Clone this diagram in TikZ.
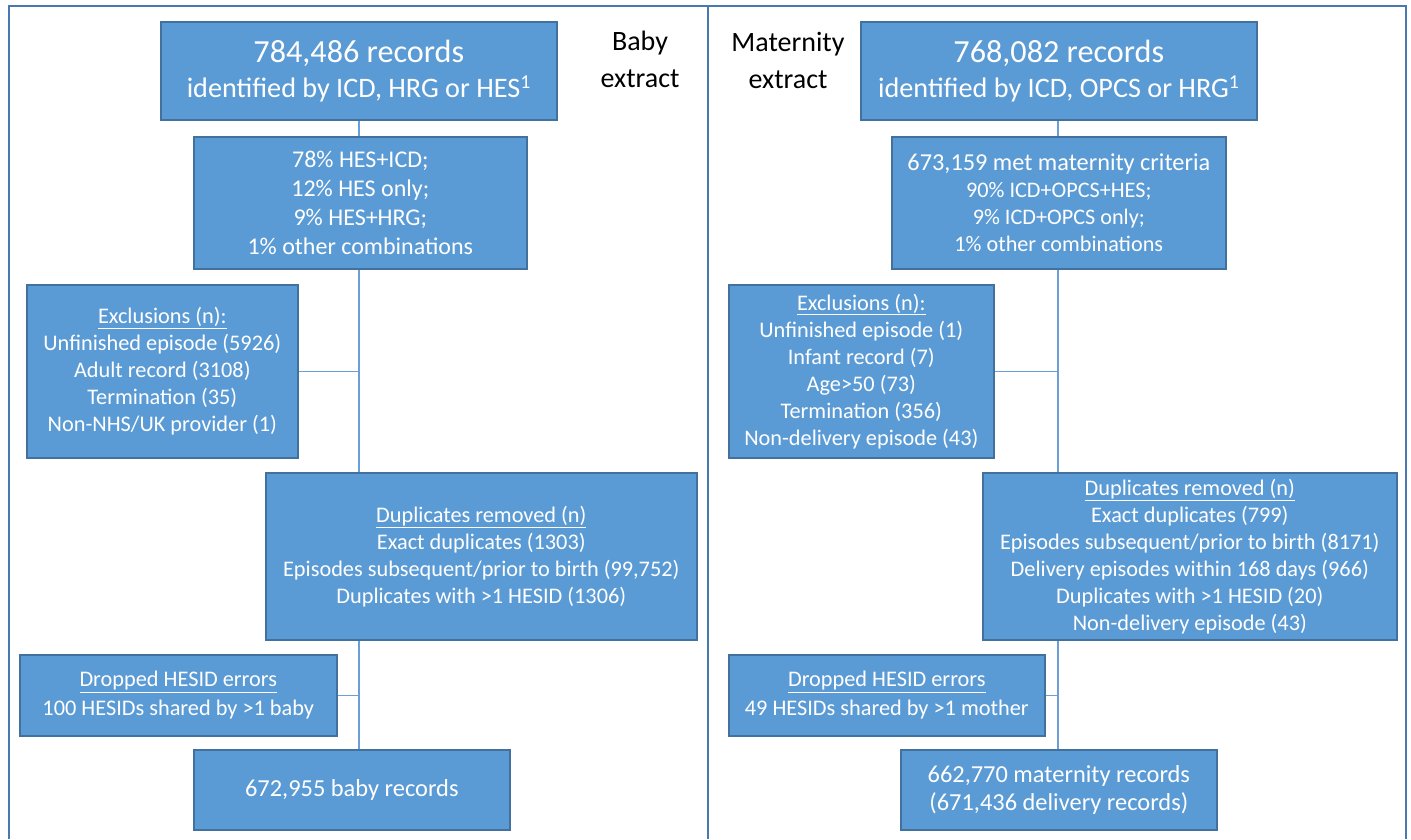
\documentclass[tikz,border=0pt]{standalone}
\usepackage{fontspec}
\setmainfont{Carlito}
\usetikzlibrary{backgrounds}
\definecolor{boxfill}{HTML}{5B9BD5}
\definecolor{boxline}{HTML}{41719C}
\definecolor{framec}{HTML}{4A78B0}
\definecolor{connc}{HTML}{6A9FD8}
\tikzset{
  box/.style={draw=boxline, line width=1.6pt, fill=boxfill, text=white, align=center, inner sep=0pt, anchor=north west},
  conn/.style={draw=connc, line width=1.2pt},
  framel/.style={draw=framec, line width=2.2pt},
  lbl/.style={align=center, text=black, inner sep=0pt, font=\fontsize{28}{37}\selectfont},
  big/.style={font=\fontsize{28.2}{35}\selectfont},
  mid/.style={font=\fontsize{24}{29}\selectfont},
  sml/.style={font=\fontsize{22.3}{27}\selectfont}
}
\begin{document}
\begin{tikzpicture}[x=1pt,y=-1pt]
\useasboundingbox (0,0) rectangle (1411,839);
% frame
\draw[framel] (9,839) -- (9,6) -- (1406,6) -- (1406,839);
\draw[framel] (708,6) -- (708,839);
% left column
\node[box, big, minimum width=396pt, minimum height=98pt] (t1) at (160,21)
  {{\fontsize{32.2}{35}\selectfont 784,486 records}\\identified by ICD, HRG or HES\textsuperscript{1}};
\node[lbl] (lb1) at (640,59) {Baby\\extract};
\node[box, mid, minimum width=333pt, minimum height=132pt] (b2) at (193,136)
  {78\% HES+ICD;\\12\% HES only;\\9\% HES+HRG;\\1\% other combinations};
\node[box, sml, minimum width=271pt, minimum height=173pt] (ex1) at (26,284)
  {\underline{Exclusions (n):}\\Unfinished episode (5926)\\Adult record (3108)\\Termination (35)\\Non-NHS/UK provider (1)};
\node[box, sml, minimum width=431pt, minimum height=167pt] (du1) at (265,472)
  {\underline{Duplicates removed (n)}\\Exact duplicates (1303)\\Episodes subsequent/prior to birth (99,752)\\Duplicates with >1 HESID (1306)};
\node[box, font=\fontsize{22.3}{29}\selectfont, minimum width=317pt, minimum height=81pt] (dr1) at (19,654)
  {\underline{Dropped HESID errors}\\100 HESIDs shared by >1 baby};
\node[box, font=\fontsize{24.4}{28}\selectfont, minimum width=316pt, minimum height=80pt] (fi1) at (193,749)
  {672,955 baby records};
\coordinate (sp1) at (359,0);
% right column
\node[box, big, minimum width=396pt, minimum height=98pt] (t2) at (860,21)
  {{\fontsize{32.2}{35}\selectfont 768,082 records}\\identified by ICD, OPCS or HRG\textsuperscript{1}};
\node[lbl] (lb2) at (788,60) {Maternity\\extract};
\node[box, font=\fontsize{22.2}{27}\selectfont, minimum width=334pt, minimum height=132pt] (c2) at (891,136)
  {{\fontsize{24.3}{27}\selectfont 673,159 met maternity criteria}\\90\% ICD+OPCS+HES;\\9\% ICD+OPCS only;\\1\% other combinations};
\node[box, sml, minimum width=265pt, minimum height=173pt] (ex2) at (728,284)
  {\underline{Exclusions (n):}\\Unfinished episode (1)\\Infant record (7)\\Age>50 (73)\\Termination (356)\\Non-delivery episode (43)};
\node[box, sml, minimum width=414pt, minimum height=167pt] (du2) at (982,472)
  {\underline{Duplicates removed (n)}\\Exact duplicates (799)\\Episodes subsequent/prior to birth (8171)\\Delivery episodes within 168 days (966)\\Duplicates with >1 HESID (20)\\Non-delivery episode (43)};
\node[box, font=\fontsize{22.3}{29}\selectfont, minimum width=316pt, minimum height=81pt] (dr2) at (728,654)
  {\underline{Dropped HESID errors}\\49 HESIDs shared by >1 mother};
\node[box, font=\fontsize{24.4}{28}\selectfont, minimum width=316pt, minimum height=80pt] (fi2) at (900,749)
  {662,770 maternity records\\(671,436 delivery records)};
\coordinate (sp2) at (1058,0);
% connectors
\begin{pgfonlayer}{background}
\draw[conn] (t1.south -| sp1) -- (fi1.north -| sp1);
\draw[conn] (ex1.east) -- (ex1.east -| sp1);
\draw[conn] (dr1.east) -- (dr1.east -| sp1);
\draw[conn] (t2.south -| sp2) -- (fi2.north -| sp2);
\draw[conn] (ex2.east) -- (ex2.east -| sp2);
\draw[conn] (dr2.east) -- (dr2.east -| sp2);
\end{pgfonlayer}
\end{tikzpicture}
\end{document}
